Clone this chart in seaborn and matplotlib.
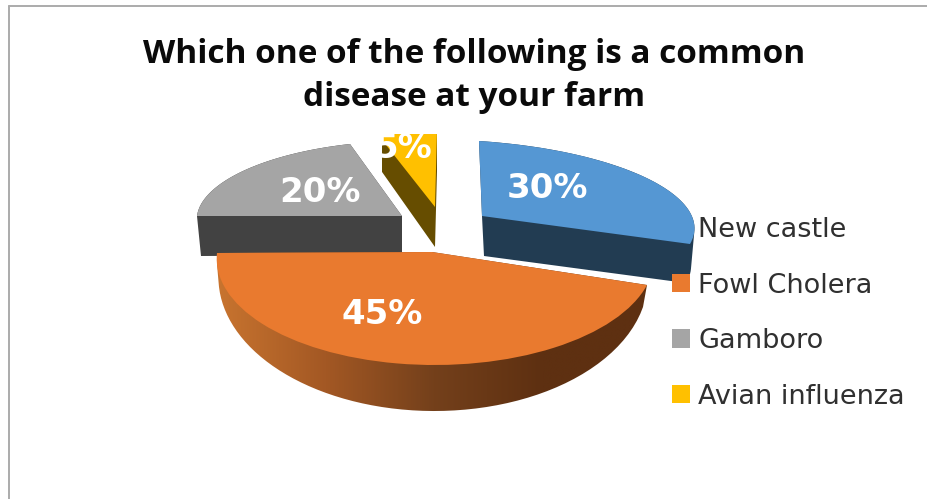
import numpy as np
import matplotlib
matplotlib.use("Agg")
import matplotlib.pyplot as plt
import matplotlib.transforms as mtransforms
from matplotlib.colors import LinearSegmentedColormap
from matplotlib.patches import Patch, Polygon
import seaborn as sns

categories = ["New castle", "Fowl Cholera", "Gamboro", "Avian influenza"]
values = [30, 45, 20, 5]
top_colors = ["#5597D3", "#E97A2F", "#A5A5A5", "#FFC000"]
side_colors = ["#223C52", "#5E3011", "#424242", "#664D00"]
gradient_stops = ["#C8742F", "#A35824", "#74401B", "#5E3011", "#5E3011"]

# layout: clock angle (deg, None = wedge tip) -> pixel position in the picture
top_anchor = {
    0: [(None, (482, 216)), (0, (479, 141)), (72, (679, 199)), (108, (690, 244))],
    1: [(None, (432, 252)), (108, (647, 285)), (180, (433, 365)), (270, (217, 253))],
    2: [(None, (402, 216)), (270, (197, 216)), (306, (243, 171)), (342, (350, 144))],
    3: [(None, (435, 207)), (0, (437, 131)), (342, (375, 131)), (90, (635, 219))],
}
side_anchor = {
    0: [(None, (484, 256)), (0, (481, 180)), (72, (677, 238)), (108, (686, 283))],
    1: [(108, (643, 307)), (180, (431, 411)), (225, (282, 372)), (270, (219, 287))],
    2: [(None, (402, 255)), (270, (201, 256)), (306, (245, 211)), (342, (350, 183))],
    3: [(None, (435, 247)), (0, (437, 171)), (342, (375, 162)), (90, (635, 288))],
}
label_pos = {0: (547, 188), 1: (382, 315), 2: (320, 193), 3: (403, 148)}

sns.set_theme(style="white")
plt.rcParams["font.family"] = ["DejaVu Sans"]


def unit(clock):
    if clock is None:
        return (0.0, 0.0)
    r = np.deg2rad(clock)
    return (np.sin(r), np.cos(r))


def fit(anchors):
    A, b = [], []
    for clock, (X, Y) in anchors:
        x, y = unit(clock)
        A.append([x, y, 1, 0, 0, 0, -x * X, -y * X])
        A.append([0, 0, 0, x, y, 1, -x * Y, -y * Y])
        b += [X, Y]
    return np.append(np.linalg.solve(np.array(A), np.array(b)), 1).reshape(3, 3)


class Homography(mtransforms.Transform):
    input_dims = output_dims = 2
    is_separable = False
    has_inverse = False

    def __init__(self, H):
        super().__init__()
        self.H = H

    def transform_non_affine(self, xy):
        xy = np.asarray(xy, float)
        p = np.c_[xy, np.ones(len(xy))] @ self.H.T
        return p[:, :2] / p[:, 2:]


def hull(points):
    pts = sorted(map(tuple, points))
    def half(seq):
        out = []
        for p in seq:
            while len(out) > 1 and (out[-1][0] - out[-2][0]) * (p[1] - out[-2][1]) - (out[-1][1] - out[-2][1]) * (p[0] - out[-2][0]) <= 0:
                out.pop()
            out.append(p)
        return out[:-1]
    return np.array(half(pts) + half(pts[::-1]))


fig = plt.figure(figsize=(9.27, 4.99), dpi=100, facecolor="white")
ax = fig.add_axes([0, 0, 1, 1])
wedges, _ = ax.pie(values, startangle=90, counterclock=False, colors=top_colors)
ax.set_aspect("auto")
ax.set_xlim(0, 927)
ax.set_ylim(499, 0)
ax.axis("off")

edges = np.cumsum([0] + values) * 3.6
draw_order = [2, 3, 0, 1]
clip_yellow = Polygon([(382, 134), (442, 134), (442, 264), (382, 264)], transform=ax.transData)
for z_step, i in enumerate(draw_order):
    z = 2 + z_step
    top = Homography(fit(top_anchor[i]))
    bottom = Homography(fit(side_anchor[i]))
    angles = np.linspace(edges[i], edges[i + 1], 60)
    arc = np.array([unit(a) for a in angles])
    ring = np.vstack([[(0, 0)], arc])
    bottom_ring = arc if i == 1 else ring
    shape = hull(np.vstack([top.transform(ring), bottom.transform(bottom_ring)]))
    if i == 1:
        cmap = LinearSegmentedColormap.from_list("side", gradient_stops)
        im = ax.imshow(np.linspace(0, 1, 256)[None, :], cmap=cmap, aspect="auto",
                       extent=(217, 650, 420, 250), zorder=z, interpolation="bilinear")
        ax.set_xlim(0, 927)
        ax.set_ylim(499, 0)
        im.set_clip_path(Polygon(shape, transform=ax.transData))
    else:
        side = ax.fill(shape[:, 0], shape[:, 1], color=side_colors[i], lw=0, zorder=z)[0]
        if i == 3:
            side.set_clip_path(clip_yellow)
    w = wedges[i]
    w.set_transform(top + ax.transData)
    w.set_zorder(z + 0.1)
    w.set_linewidth(0)
    if i == 3:
        w.set_clip_on(True)
        w.set_clip_path(clip_yellow)
    t = ax.text(*label_pos[i], f"{values[i]}%", color="white", fontsize=24.5, fontweight="bold",
                ha="center", va="center", zorder=z + 0.2, family="DejaVu Sans")
    if i == 3:
        t.set_clip_on(True)
        t.set_clip_path(clip_yellow)

ax.text(474, 75.5, "Which one of the following is a common\ndisease at your farm", ha="center", va="center",
        fontsize=24, fontweight="bold", color="#0A0A0A", linespacing=1.4, family="Open Sans")

handles = [Patch(facecolor=c, edgecolor="none") for c in top_colors]
leg = ax.legend(handles, categories, loc="upper left", bbox_to_anchor=(672 / 927, 1 - 217 / 499),
                bbox_transform=fig.transFigure, frameon=False, fontsize=19.5, labelcolor="#303030",
                handlelength=0.66, handleheight=0.66, handletextpad=0.3, labelspacing=1.09,
                borderpad=0, borderaxespad=0)
leg.set_zorder(10)

ax.plot([9, 9], [499, 5.5], color="#ABABAB", lw=1.4, zorder=1)
ax.plot([9, 927], [5.5, 5.5], color="#ABABAB", lw=1.4, zorder=1)

fig.savefig("out.png", dpi=100, facecolor="white")
